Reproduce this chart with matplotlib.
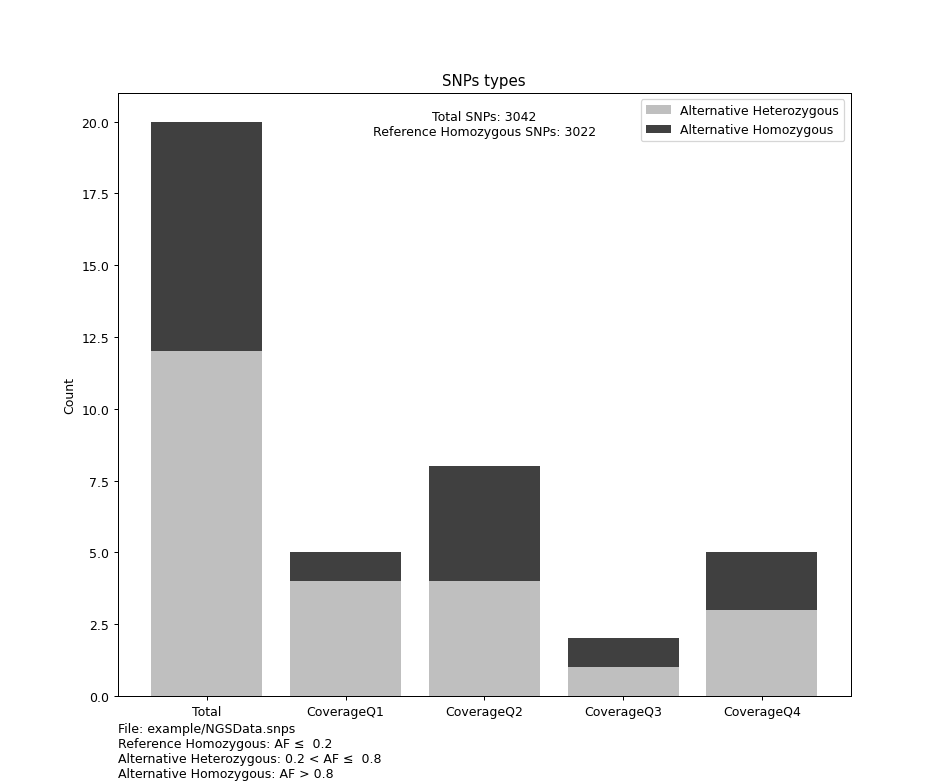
import numpy as np
import matplotlib
matplotlib.use("Agg")
import matplotlib.pyplot as plt

categories = ["Total", "CoverageQ1", "CoverageQ2", "CoverageQ3", "CoverageQ4"]
het_counts = [12, 4, 4, 1, 3]
hom_counts = [8, 1, 4, 1, 2]

total_snps = 3042
ref_hom_snps = 3022
file_name = "example/NGSData.snps"

# 945x783 px at 90 dpi
fig, ax = plt.subplots(figsize=(10.5, 8.7))

x = np.arange(len(categories))
ax.bar(x, het_counts, color="#bfbfbf", label="Alternative Heterozygous")
ax.bar(x, hom_counts, bottom=het_counts, color="#404040", label="Alternative Homozygous")

ax.set_xticks(x)
ax.set_xticklabels(categories)
ax.set_ylabel("Count")
ax.set_title("SNPs types")
ax.legend(loc="upper right")

ax.text(0.5, 0.972, "Total SNPs: %d\nReference Homozygous SNPs: %d" % (total_snps, ref_hom_snps),
        transform=ax.transAxes, ha="center", va="top", multialignment="center")

footer = ("File: %s\n"
          "Reference Homozygous: AF \u2264  0.2\n"
          "Alternative Heterozygous: 0.2 < AF \u2264  0.8\n"
          "Alternative Homozygous: AF > 0.8") % file_name
fig.text(0.125, 0.002, footer, ha="left", va="bottom")

fig.savefig("out.png", dpi=90)
